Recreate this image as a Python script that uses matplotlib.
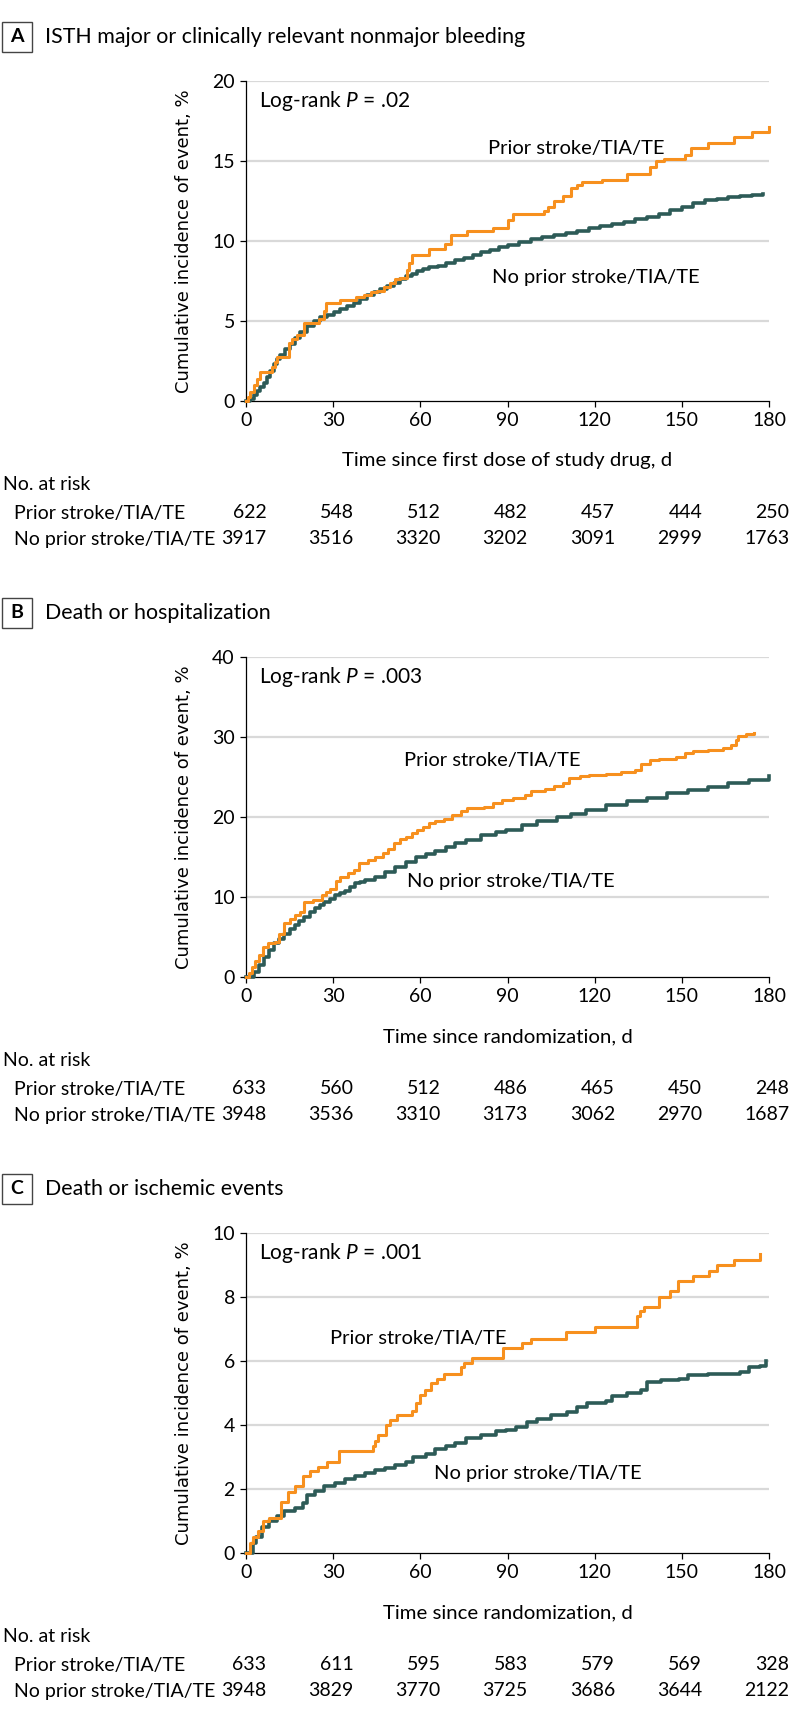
import matplotlib
matplotlib.use("Agg")
import matplotlib.pyplot as plt
from matplotlib import font_manager
from matplotlib.patches import Rectangle
from matplotlib.transforms import blended_transform_factory

# ---------- data ----------
days_ticks = [0, 30, 60, 90, 120, 150, 180]

a_prior_days = [0, 0.6, 1.5, 2.6, 3.8, 4.7, 9.0, 10.0, 10.7, 14.7, 15.8, 17.5, 19.8, 25.0, 26.7, 27.6, 32.5,
                38.0, 40.5, 43, 45, 47.4, 49.7, 51.4, 53, 55.5, 56.2, 57.0, 63.0, 68.5, 70.5, 76, 85, 90.3, 92,
                102.5, 104, 106, 109, 112, 114, 115.5, 122.5, 131, 139, 141, 144, 151, 153, 159, 168, 174, 180]
a_prior_pct = [0, 0.25, 0.55, 1.0, 1.4, 1.8, 2.1, 2.45, 2.75, 3.6, 3.9, 4.1, 4.9, 5.1, 5.6, 6.1, 6.3,
               6.5, 6.6, 6.8, 6.9, 7.1, 7.4, 7.6, 7.7, 8.2, 8.6, 9.1, 9.5, 9.8, 10.4, 10.6, 10.8, 11.3, 11.7,
               11.9, 12.1, 12.5, 12.8, 13.3, 13.5, 13.7, 13.8, 14.2, 14.6, 15.0, 15.1, 15.4, 15.8, 16.1, 16.5, 16.8, 17.1]
a_none_days = [0, 1.5, 2.6, 3.8, 4.9, 6.1, 7.2, 8.4, 9.5, 10.7, 11.8, 13.5, 15.3, 17, 18.7, 21, 23.3, 25.6, 27.9,
               30.2, 32.5, 34.7, 37, 39.3, 41.6, 43.9, 46.2, 48.5, 50.8, 53, 55, 57, 59, 61, 63, 66, 69, 72, 75,
               78, 81, 84, 87, 90, 94, 98, 102, 106, 110, 114, 118, 122, 126, 130, 134, 138, 142, 146, 150, 154,
               158, 162, 166, 170, 174, 178]
a_none_pct = [0, 0.15, 0.4, 0.6, 0.85, 1.15, 1.5, 1.9, 2.3, 2.6, 2.9, 3.25, 3.55, 3.95, 4.3, 4.7, 5.0, 5.25, 5.4,
              5.55, 5.75, 5.95, 6.15, 6.4, 6.6, 6.8, 7.0, 7.2, 7.4, 7.6, 7.8, 7.95, 8.1, 8.25, 8.35, 8.45, 8.6, 8.8,
              8.95, 9.1, 9.3, 9.45, 9.6, 9.75, 9.95, 10.1, 10.25, 10.35, 10.5, 10.65, 10.8, 10.95, 11.05, 11.2,
              11.35, 11.5, 11.7, 11.95, 12.15, 12.35, 12.55, 12.65, 12.75, 12.8, 12.9, 12.95]

b_prior_days = [0, 1, 2, 3, 4.5, 6, 7.5, 10, 11.5, 13, 15, 17, 18.5, 20, 23, 26, 27.5, 29, 31, 32.5, 35, 37, 39,
                42, 44.5, 47, 49, 51, 53, 55, 57, 59, 61, 63, 65, 68, 71, 74, 76, 82, 85, 88, 92, 96, 98, 103,
                106, 109, 111, 115, 118, 124, 129, 134, 136, 139, 142, 148, 151, 154, 159, 164, 167, 168.5,
                169.5, 172, 175]
b_prior_pct = [0, 0.5, 1.2, 2.0, 2.7, 3.7, 4.2, 4.4, 5.4, 6.7, 7.3, 7.8, 8.1, 9.4, 9.6, 10.2, 10.6, 11.0, 12.0,
               12.5, 13.0, 13.4, 14.2, 14.6, 15.0, 15.5, 16.0, 16.7, 17.2, 17.5, 18.0, 18.4, 18.8, 19.2, 19.5,
               19.8, 20.2, 20.7, 21.1, 21.3, 21.8, 22.1, 22.4, 22.8, 23.3, 23.5, 23.9, 24.3, 24.9, 25.1, 25.3,
               25.4, 25.6, 25.9, 26.6, 27.1, 27.2, 27.5, 28.0, 28.2, 28.4, 28.6, 29.0, 29.6, 30.1, 30.4, 30.5]
b_none_days = [0, 1, 2.8, 4.5, 6.3, 8, 9.7, 11.5, 13.2, 15, 16.7, 18.4, 20, 22, 23.6, 25.3, 27, 28.8, 30.6, 32.3,
               34, 35.8, 37.5, 39.3, 41, 44.5, 48, 51.4, 55, 58.4, 62, 65, 68.8, 72, 75.7, 81, 86, 89.6, 95, 100,
               107, 112, 117, 124, 131, 138, 145, 152, 159, 166, 173, 180]
b_none_pct = [0, 0.05, 0.6, 1.5, 2.5, 3.4, 4.2, 4.8, 5.4, 6.0, 6.5, 7.0, 7.5, 8.1, 8.6, 9.0, 9.4, 9.8, 10.2, 10.5,
              10.8, 11.3, 11.7, 11.9, 12.1, 12.5, 13.1, 13.8, 14.4, 15.0, 15.4, 15.8, 16.3, 16.7, 17.1, 17.7,
              18.1, 18.4, 19.0, 19.5, 20.0, 20.4, 20.9, 21.5, 22.0, 22.4, 23.0, 23.4, 23.8, 24.3, 24.6, 25.1]

c_prior_days = [0, 1.5, 2.4, 4, 5.7, 8, 12, 14.4, 17, 19.6, 21.9, 24.8, 28, 32, 43.6, 44.5, 45.3, 48.3, 49.7,
                51.8, 57, 58.5, 60, 61.6, 63.6, 65.7, 68, 74, 75, 77.8, 88.3, 95, 98, 110, 120, 134.5, 135.5,
                137, 142, 146, 148.7, 154, 159.3, 162, 168, 177]
c_prior_pct = [0, 0.3, 0.5, 0.7, 1.0, 1.1, 1.6, 1.9, 2.1, 2.4, 2.55, 2.7, 2.85, 3.2, 3.35, 3.5, 3.7, 4.0, 4.15,
               4.3, 4.45, 4.7, 4.95, 5.1, 5.3, 5.45, 5.6, 5.8, 5.95, 6.1, 6.4, 6.55, 6.7, 6.9, 7.05, 7.4, 7.55,
               7.7, 8.0, 8.2, 8.5, 8.65, 8.8, 9.0, 9.15, 9.35]
c_none_days = [0, 2.3, 3.6, 5.4, 8, 10.6, 13.2, 16.7, 19.6, 21, 23.6, 27, 30.6, 34, 37.5, 41, 44.5, 48, 51.4, 55,
               57.5, 62, 65, 68.8, 72, 75.7, 81, 86, 89.6, 93, 96.6, 100, 105, 110.5, 114, 117.5, 124, 126, 131,
               136, 138, 143, 149, 152, 159, 166, 170, 173, 177, 179]
c_none_pct = [0, 0.3, 0.5, 0.8, 1.0, 1.15, 1.3, 1.4, 1.55, 1.8, 1.95, 2.1, 2.2, 2.3, 2.4, 2.5, 2.6, 2.65, 2.75,
              2.85, 3.0, 3.1, 3.25, 3.35, 3.45, 3.6, 3.7, 3.8, 3.85, 3.95, 4.1, 4.2, 4.3, 4.4, 4.55, 4.7, 4.75,
              4.9, 5.0, 5.1, 5.35, 5.4, 5.45, 5.55, 5.6, 5.6, 5.65, 5.8, 5.85, 6.0]

a_risk_prior = [622, 548, 512, 482, 457, 444, 250]
a_risk_none = [3917, 3516, 3320, 3202, 3091, 2999, 1763]
b_risk_prior = [633, 560, 512, 486, 465, 450, 248]
b_risk_none = [3948, 3536, 3310, 3173, 3062, 2970, 1687]
c_risk_prior = [633, 611, 595, 583, 579, 569, 328]
c_risk_none = [3948, 3829, 3770, 3725, 3686, 3644, 2122]

# ---------- style ----------
def _pick(names):
    have = {f.name for f in font_manager.fontManager.ttflist}
    for n in names:
        if n in have:
            return n
    return "DejaVu Sans"


FONT = _pick(["Lato", "Open Sans", "Noto Sans", "DejaVu Sans"])
plt.rcParams["font.family"] = FONT
plt.rcParams["mathtext.fontset"] = "custom"
plt.rcParams["mathtext.rm"] = FONT
plt.rcParams["mathtext.it"] = FONT + ":italic"

ORANGE = "#f7901e"
TEAL = "#2d5b57"
GRID = "#d9d9d9"

W, H = 794, 1721
fig = plt.figure(figsize=(W / 100, H / 100), dpi=100)


def fx(px):
    return px / W


def fy(px):
    return 1 - px / H


X0, X1 = 246, 769

panels = [
    dict(tag="A", title="ISTH major or clinically relevant nonmajor bleeding", top=81, ymax=20, step=5,
         prior=(a_prior_days, a_prior_pct), none=(a_none_days, a_none_pct), p=".02",
         xlabel="Time since first dose of study drug, d", risk=(a_risk_prior, a_risk_none),
         lab_prior=(83.3, 15.8), lab_none=(84.6, 7.7)),
    dict(tag="B", title="Death or hospitalization", top=657, ymax=40, step=10,
         prior=(b_prior_days, b_prior_pct), none=(b_none_days, b_none_pct), p=".003",
         xlabel="Time since randomization, d", risk=(b_risk_prior, b_risk_none),
         lab_prior=(54.4, 27.1), lab_none=(55.4, 11.9)),
    dict(tag="C", title="Death or ischemic events", top=1233, ymax=10, step=2,
         prior=(c_prior_days, c_prior_pct), none=(c_none_days, c_none_pct), p=".001",
         xlabel="Time since randomization, d", risk=(c_risk_prior, c_risk_none),
         lab_prior=(28.9, 6.7), lab_none=(64.7, 2.5)),
]

AX_H = 320
TABLE_FS = 14
for pn in panels:
    top = pn["top"]
    ax = fig.add_axes([fx(X0), fy(top + AX_H), fx(X1 - X0), AX_H / H])
    ax.set_xlim(0, 180)
    ax.set_ylim(0, pn["ymax"])
    yt = list(range(0, pn["ymax"] + 1, pn["step"]))
    ax.set_yticks(yt)
    ax.set_xticks(days_ticks)
    for v in yt[1:]:
        ax.axhline(v, color=GRID, lw=1.6, zorder=0)
    for s in ("top", "right"):
        ax.spines[s].set_visible(False)
    for s in ("left", "bottom"):
        ax.spines[s].set_linewidth(0.9)
    ax.tick_params(direction="out", length=4, width=0.9, labelsize=14, pad=4)

    ax.step(*pn["none"], where="post", color=TEAL, lw=2.6, clip_on=False, zorder=3)
    ax.step(*pn["prior"], where="post", color=ORANGE, lw=2.2, clip_on=False, zorder=4)

    ax.text(4.5, pn["ymax"] * 0.9375, "Log-rank $P$ = " + pn["p"], fontsize=15, va="center")
    ax.text(*pn["lab_prior"], "Prior stroke/TIA/TE", fontsize=14.5, va="center")
    ax.text(*pn["lab_none"], "No prior stroke/TIA/TE", fontsize=14.5, va="center")

    ax.set_ylabel("Cumulative incidence of event, %", family="DejaVu Sans", fontsize=13)
    ax.yaxis.label.set_va("center")
    ax.yaxis.set_label_coords((184 - X0) / (X1 - X0), 0.5)
    ax.set_xlabel(pn["xlabel"], fontsize=14.7)
    ax.xaxis.label.set_va("baseline")
    ax.xaxis.set_label_coords(0.5, -65 / AX_H)

    # panel tag box + title
    fig.patches.append(Rectangle((fx(2), fy(top - 29)), fx(30), 30 / H, transform=fig.transFigure,
                                 fill=False, ec="#444444", lw=1.0))
    fig.text(fx(17), fy(top - 44), pn["tag"], ha="center", va="center", fontsize=14, weight="bold")
    fig.text(fx(45), fy(top - 44), pn["title"], ha="left", va="center", fontsize=15.4)

    # number at risk table
    base = top + AX_H
    fig.text(fx(3), fy(base + 84), "No. at risk", va="center", fontsize=TABLE_FS)
    fig.text(fx(14), fy(base + 112), "Prior stroke/TIA/TE", va="center", fontsize=TABLE_FS)
    fig.text(fx(14), fy(base + 138), "No prior stroke/TIA/TE", va="center", fontsize=TABLE_FS)
    tr = blended_transform_factory(ax.transData, fig.transFigure)
    for t, n1, n2 in zip(days_ticks, *pn["risk"]):
        ax.text(t + 7.0, fy(base + 112), str(n1), transform=tr, ha="right", va="center", fontsize=TABLE_FS,
                clip_on=False)
        ax.text(t + 7.0, fy(base + 138), str(n2), transform=tr, ha="right", va="center", fontsize=TABLE_FS,
                clip_on=False)

fig.savefig("out.png", dpi=100)
